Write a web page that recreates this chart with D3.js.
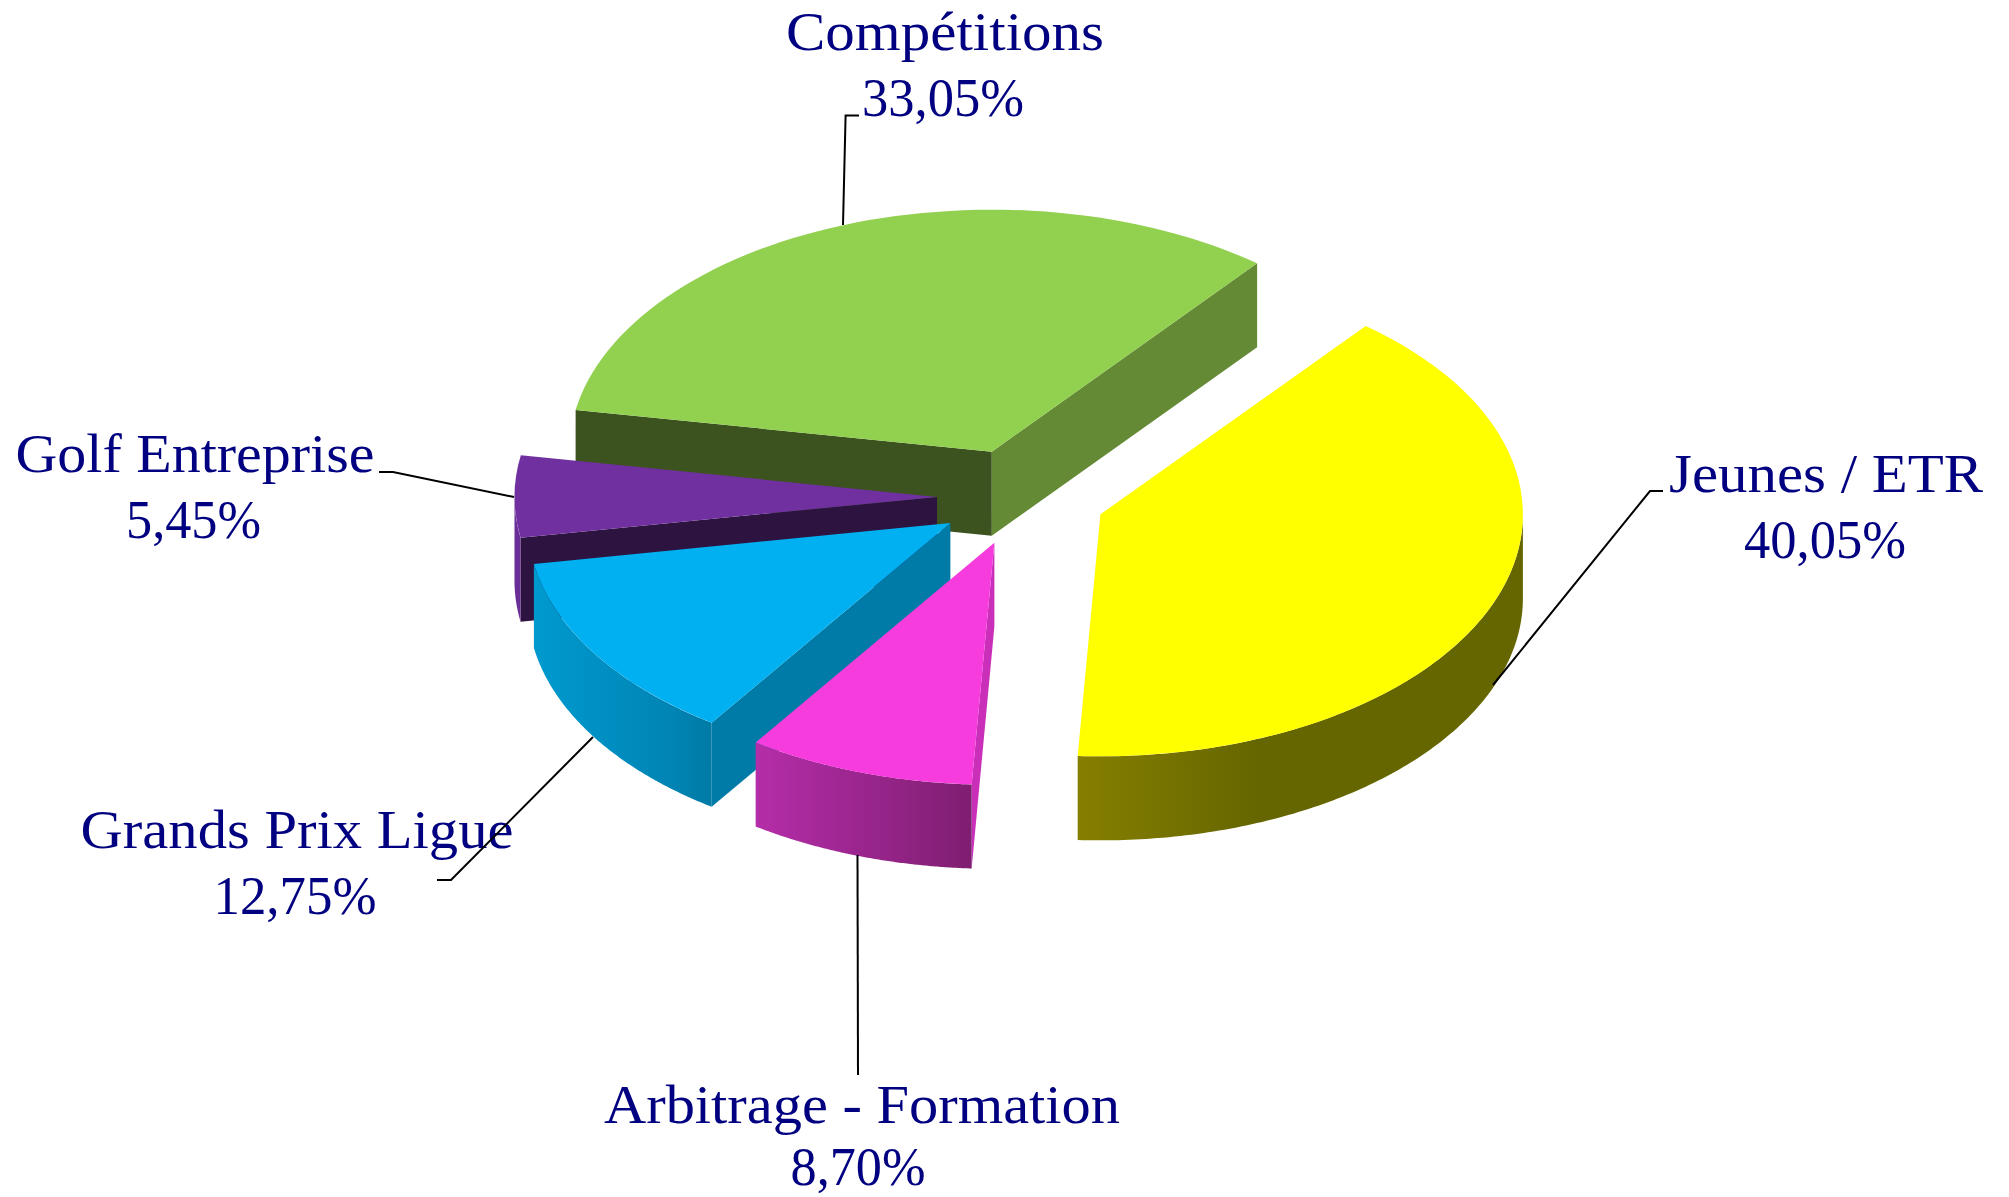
<!DOCTYPE html>
<html>
<head>
<meta charset="utf-8">
<script src="https://cdn.jsdelivr.net/npm/d3@7"></script>
<style>
    html, body { margin: 0; padding: 0; background: #fff; }
    svg { display: block; }
    .label { font-family: "Liberation Serif", serif; font-size: 54px; fill: #000080; text-anchor: middle; }
</style>
</head>
<body>
<div id="chart"></div>
<script>
// --- DATA ---
const categories = ['Jeunes / ETR', 'Arbitrage - Formation', 'Grands Prix Ligue', 'Golf Entreprise', 'Compétitions'];
const shares = [40.05, 8.70, 12.75, 5.45, 33.05];
const shareLabels = ['40,05%', '8,70%', '12,75%', '5,45%', '33,05%'];

// --- STYLES ---
const topColors = ['#ffff00', '#f63cdd', '#00b0f0', '#7030a0', '#92d050'];
const startWallColors = ['#666600', '#c92fb9', '#007ba8', '#2d1340', '#3c5320'];
const endWallColors = ['#666600', '#c92fb9', '#007ba8', '#2d1340', '#648a35'];
const outerWallStops = [
    [[0, '#857f00'], [0.4, '#666600'], [1, '#666600']],
    [[0, '#b52da9'], [1, '#7f1e71']],
    [[0, '#009acf'], [0.75, '#0085b5'], [1, '#007ba6']],
    [[0, '#6a2e97'], [1, '#6a2e97']],
    [[0, '#648a35'], [1, '#648a35']]
];
const drawOrder = [4, 3, 2, 1, 0]; // back to front

// label centre x, baselines, widths of both lines, leader line
const labelLayout = [
    { x: 1826, y: 492, w1: 314, x2: 1825, y2: 558, w2: 162, leader: [[1663, 491], [1650, 491], [1493, 685]] },
    { x: 862, y: 1123, w1: 516, x2: 858, y2: 1185, w2: 135, leader: [[858, 1075], [857.5, 855]] },
    { x: 297, y: 848, w1: 433, x2: 295, y2: 914, w2: 163, leader: [[437, 880], [451, 880], [593, 737]] },
    { x: 195, y: 472, w1: 359, x2: 193.5, y2: 538, w2: 135, leader: [[379, 472], [393, 472], [514, 497]] },
    { x: 945, y: 50, w1: 318, x2: 943, y2: 116, w2: 162, leader: [[859, 115.5], [845.6, 115.5], [843, 225]] }
];

const width = 2009, height = 1197;
const cx = 1021.5, cy = 497, rx = 422.5, ry = 242;
const depth = 84;
const explode = 0.2;
const firstAngle = 38.9 * Math.PI / 180;

const svg = d3.select('#chart').append('svg')
    .attr('width', width)
    .attr('height', height);
const defs = svg.append('defs');

const pie = d3.pie().sort(null).startAngle(firstAngle).endAngle(firstAngle + 2 * Math.PI);
const slices = pie(shares);

// the pie is a circle of radius rx squashed to ry
const topArc = d3.arc().innerRadius(0).outerRadius(rx);
const wallLine = d3.line();

function sliceCenter(d) {
    const mid = (d.startAngle + d.endAngle) / 2;
    return [cx + explode * rx * Math.sin(mid), cy - explode * ry * Math.cos(mid)];
}

function rimPoint(c, a, drop) {
    return [c[0] + rx * Math.sin(a), c[1] - ry * Math.cos(a) + drop];
}

// part of the rim that faces the viewer (90deg to 270deg clockwise from the top)
function frontRange(d) {
    const lo = Math.max(d.startAngle, Math.PI / 2);
    const hi = Math.min(d.endAngle, 3 * Math.PI / 2);
    return lo < hi ? [lo, hi] : null;
}

drawOrder.forEach(i => {
    const d = slices[i];
    const c = sliceCenter(d);
    const g = svg.append('g').attr('class', 'slice');

    // cut faces, only when turned to the viewer
    if (Math.sin(d.startAngle) < 0) {
        const p = rimPoint(c, d.startAngle, 0);
        g.append('path')
            .attr('d', wallLine([c, p, [p[0], p[1] + depth], [c[0], c[1] + depth]]) + 'Z')
            .attr('fill', startWallColors[i]);
    }
    if (Math.sin(d.endAngle) > 0) {
        const p = rimPoint(c, d.endAngle, 0);
        g.append('path')
            .attr('d', wallLine([c, p, [p[0], p[1] + depth], [c[0], c[1] + depth]]) + 'Z')
            .attr('fill', endWallColors[i]);
    }

    // outer rim
    const range = frontRange(d);
    if (range) {
        const angles = d3.range(0, 121).map(k => range[0] + (range[1] - range[0]) * k / 120);
        const upper = angles.map(a => rimPoint(c, a, 0));
        const lower = angles.slice().reverse().map(a => rimPoint(c, a, depth));
        const xs = d3.extent(upper, p => p[0]);
        const grad = defs.append('linearGradient')
            .attr('id', 'rim' + i)
            .attr('gradientUnits', 'userSpaceOnUse')
            .attr('x1', xs[0]).attr('x2', xs[1])
            .attr('y1', 0).attr('y2', 0);
        outerWallStops[i].forEach(s => {
            grad.append('stop').attr('offset', s[0]).attr('stop-color', s[1]);
        });
        g.append('path')
            .attr('d', wallLine(upper.concat(lower)) + 'Z')
            .attr('fill', `url(#rim${i})`);
    }

    // top face
    g.append('path')
        .attr('d', topArc(d))
        .attr('transform', `translate(${c[0]},${c[1]}) scale(1,${ry / rx})`)
        .attr('fill', topColors[i]);
});

// --- LABELS ---
const labels = svg.append('g');
categories.forEach((name, i) => {
    const l = labelLayout[i];
    labels.append('text').attr('class', 'label')
        .attr('x', l.x).attr('y', l.y)
        .attr('textLength', l.w1).attr('lengthAdjust', 'spacingAndGlyphs')
        .text(name);
    labels.append('text').attr('class', 'label')
        .attr('x', l.x2).attr('y', l.y2)
        .attr('textLength', l.w2).attr('lengthAdjust', 'spacingAndGlyphs')
        .text(shareLabels[i]);
});

// --- LEADER LINES ---
svg.append('g').selectAll('path')
    .data(labelLayout)
    .join('path')
    .attr('d', d => wallLine(d.leader))
    .attr('fill', 'none')
    .attr('stroke', '#000')
    .attr('stroke-width', 2);
</script>
</body>
</html>
